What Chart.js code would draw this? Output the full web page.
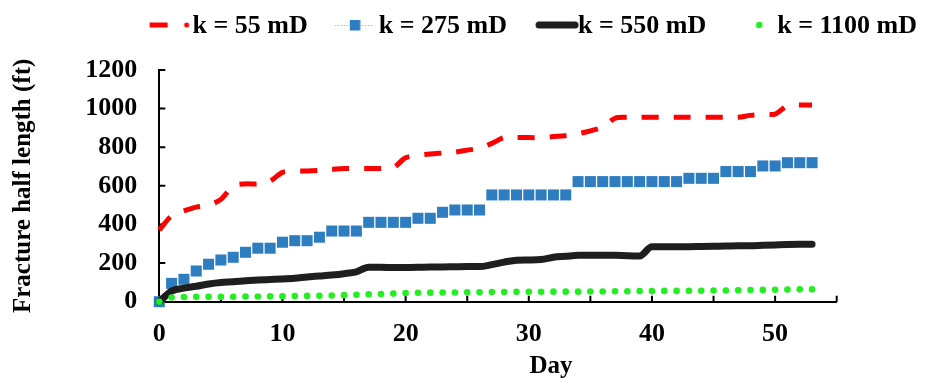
<!DOCTYPE html>
<html>
<head>
<meta charset="utf-8">
<script src="https://cdn.jsdelivr.net/npm/chart.js@4.4.1/dist/chart.umd.min.js"></script>
<style>
    html, body { margin: 0; padding: 0; background: #fff; }
</style>
</head>
<body>
<canvas id="myChart" width="925" height="378"></canvas>
<script>
const days = [0, 1, 2, 3, 4, 5, 6, 7, 8, 9, 10, 11, 12, 13, 14, 15, 16, 17, 18, 19,
    20, 21, 22, 23, 24, 25, 26, 27, 28, 29, 30, 31, 32, 33, 34, 35, 36, 37, 38, 39,
    40, 41, 42, 43, 44, 45, 46, 47, 48, 49, 50, 51, 52, 53];

const k55 = [371, 445, 470, 490, 500, 530, 600, 610, 610, 625, 670, 677, 677, 680, 685, 690, 690, 690, 690, 695,
    745, 758, 765, 770, 775, 785, 795, 820, 850, 850, 850, 850, 855, 860, 870, 885, 905, 950, 955, 955,
    955, 955, 955, 955, 955, 955, 955, 955, 965, 970, 972, 1015, 1019, 1019];
const k275 = [0, 95, 116, 159, 194, 216, 230, 256, 277, 277, 308, 316, 316, 334, 366, 366, 366, 411, 411, 411,
    411, 432, 432, 463, 475, 475, 475, 553, 553, 553, 553, 553, 553, 553, 622, 622, 622, 622, 622, 622,
    622, 622, 622, 639, 639, 639, 674, 674, 674, 703, 703, 720, 720, 720];
const k550 = [0, 55, 70, 80, 92, 100, 103, 108, 112, 115, 118, 122, 128, 133, 138, 145, 155, 178, 178, 177,
    177, 178, 180, 180, 181, 182, 182, 192, 205, 215, 216, 218, 230, 235, 240, 240, 240, 240, 238, 237,
    285, 285, 285, 285, 286, 287, 288, 290, 290, 292, 294, 296, 297, 297];
const k1100 = [0, 22, 24, 25, 25, 26, 26, 27, 27, 28, 28, 29, 30, 31, 32, 34, 36, 38, 40, 42,
    45, 46, 47, 48, 48, 49, 49, 50, 50, 51, 51, 51, 52, 52, 52, 53, 53, 54, 54, 55,
    55, 56, 56, 57, 57, 58, 58, 59, 60, 61, 62, 63, 64, 64];

const seriesNames = ["k = 55 mD", "k = 275 mD", "k = 550 mD", "k = 1100 mD"];
const yTicks = [0, 200, 400, 600, 800, 1000, 1200];
const xLabelled = [0, 10, 20, 30, 40, 50];

const RED = "#ff0000";
const BLUE = "#2e7dc1";
const BLACK = "#1e1e1e";
const GREEN = "#22ee22";
const FONT = "'Liberation Serif', 'Times New Roman', serif";

// little canvases used as legend samples
const sample = (draw) => {
    const c = document.createElement("canvas");
    c.width = 100;
    c.height = 20;
    const ctx = c.getContext("2d");
    draw(ctx);
    return c;
};

const legendSamples = [
    sample(ctx => {
        ctx.strokeStyle = RED;
        ctx.lineWidth = 5;
        ctx.beginPath();
        ctx.moveTo(45, 9);
        ctx.lineTo(63, 9);
        ctx.stroke();
        ctx.fillStyle = RED;
        ctx.beginPath();
        ctx.arc(82, 9, 2.5, 0, Math.PI * 2);
        ctx.fill();
    }),
    sample(ctx => {
        ctx.strokeStyle = "#9cc0e2";
        ctx.lineWidth = 1;
        ctx.setLineDash([1.5, 1.5]);
        ctx.beginPath();
        ctx.moveTo(44, 9.5);
        ctx.lineTo(83, 9.5);
        ctx.stroke();
        ctx.fillStyle = BLUE;
        ctx.fillRect(59, 4, 10.5, 10.5);
    }),
    sample(ctx => {
        ctx.strokeStyle = BLACK;
        ctx.lineWidth = 7;
        ctx.lineCap = "round";
        ctx.beginPath();
        ctx.moveTo(49, 9);
        ctx.lineTo(85, 9);
        ctx.stroke();
    }),
    sample(ctx => {
        ctx.fillStyle = GREEN;
        ctx.beginPath();
        ctx.arc(70, 9, 3.3, 0, Math.PI * 2);
        ctx.fill();
    })
];

// tick marks point into the plot, and the "Day" title sits right of centre
const axisExtras = {
    id: "axisExtras",
    beforeDatasetsDraw(chart) {
        const { ctx, chartArea: a, scales: { x, y } } = chart;
        ctx.save();
        ctx.strokeStyle = "#000";
        ctx.lineWidth = 2;
        ctx.beginPath();
        y.ticks.forEach(t => {
            const py = y.getPixelForValue(t.value);
            ctx.moveTo(a.left, py);
            ctx.lineTo(a.left + 6, py);
        });
        x.ticks.forEach(t => {
            const px = x.getPixelForValue(t.value);
            ctx.moveTo(px, a.bottom);
            ctx.lineTo(px, a.bottom - 6);
        });
        ctx.stroke();
        ctx.restore();
    },
    afterDraw(chart) {
        const { ctx, chartArea: a } = chart;
        ctx.save();
        ctx.fillStyle = "#000";
        ctx.font = "bold 25px " + FONT;
        ctx.textAlign = "center";
        ctx.textBaseline = "alphabetic";
        ctx.fillText("Day", (a.left + a.right) / 2 + 53, 373);
        ctx.restore();
    }
};

const data = {
    labels: days,
    datasets: [
        {
            label: seriesNames[0],
            data: k55,
            borderColor: RED,
            backgroundColor: RED,
            borderWidth: 5,
            borderDash: [17, 15],
            pointRadius: 0,
            tension: 0.3,
            clip: false,
            order: 3
        },
        {
            label: seriesNames[1],
            data: k275,
            showLine: false,
            pointStyle: "rect",
            pointRadius: 7.8,
            pointBorderWidth: 0,
            pointBackgroundColor: BLUE,
            borderColor: BLUE,
            backgroundColor: BLUE,
            clip: false,
            order: 2
        },
        {
            label: seriesNames[2],
            data: k550,
            borderColor: BLACK,
            backgroundColor: BLACK,
            borderWidth: 7,
            borderCapStyle: "round",
            borderJoinStyle: "round",
            pointRadius: 0,
            cubicInterpolationMode: "monotone",
            clip: false,
            order: 1
        },
        {
            label: seriesNames[3],
            data: k1100,
            showLine: false,
            pointRadius: 3.3,
            pointBorderWidth: 0,
            pointBackgroundColor: GREEN,
            borderColor: GREEN,
            backgroundColor: GREEN,
            clip: false,
            order: 0
        }
    ]
};

const config = {
    type: "line",
    data,
    options: {
        responsive: false,
        animation: false,
        events: [],
        layout: { padding: { top: 5, left: 0, right: 0, bottom: 0 } },
        plugins: {
            tooltip: { enabled: false },
            legend: {
                position: "top",
                align: "end",
                weight: 3000,
                labels: {
                    usePointStyle: true,
                    pointStyleWidth: 50,
                    padding: 8,
                    color: "#000",
                    font: { family: FONT, size: 26, weight: "bold" },
                    generateLabels: () => seriesNames.map((name, i) => ({
                        text: name,
                        pointStyle: legendSamples[i],
                        fontColor: "#000",
                        hidden: false,
                        lineWidth: 0,
                        datasetIndex: i
                    }))
                }
            },
            // empty title below the legend, only used as a spacer
            title: {
                display: true,
                text: "",
                font: { size: 10, lineHeight: 1 },
                padding: { top: 0, bottom: 11 }
            }
        },
        scales: {
            x: {
                type: "linear",
                min: 0,
                max: 55,
                afterFit: s => { s.height = 76.3; s.paddingRight = 88.3; },
                grid: { display: false },
                border: { display: true, color: "#000", width: 2 },
                ticks: {
                    stepSize: 5,
                    autoSkip: false,
                    maxRotation: 0,
                    padding: 9,
                    color: "#000",
                    font: { family: FONT, size: 26, weight: "bold" },
                    callback: v => xLabelled.includes(v) ? String(v) : ""
                }
            },
            y: {
                min: 0,
                max: 1200,
                afterFit: s => { s.width = 159.3; s.paddingTop = 70; },
                afterBuildTicks: s => { s.ticks = yTicks.map(v => ({ value: v })); },
                grid: { display: false },
                border: { display: true, color: "#000", width: 2 },
                title: {
                    display: true,
                    text: "Fracture half length (ft)",
                    color: "#000",
                    font: { family: FONT, size: 25, weight: "bold" },
                    padding: { top: 9, bottom: 0 }
                },
                ticks: {
                    padding: 14,
                    color: "#000",
                    font: { family: FONT, size: 26, weight: "bold" },
                    callback: v => String(v)
                }
            }
        }
    },
    plugins: [axisExtras]
};

window.myChart = new Chart(document.getElementById("myChart"), config);
</script>
</body>
</html>
